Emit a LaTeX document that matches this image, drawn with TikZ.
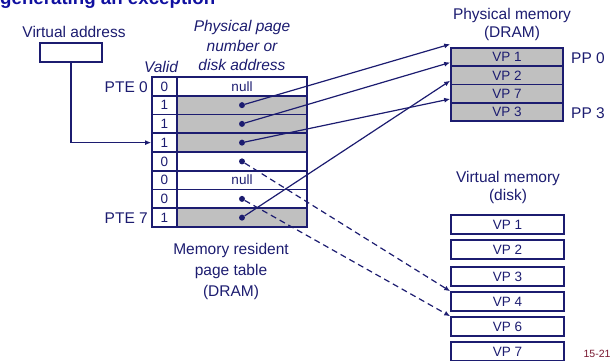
\documentclass[tikz,border=0pt]{standalone}
\usepackage{fontspec}
\setmainfont{Liberation Sans}
\usetikzlibrary{arrows.meta}
\definecolor{navy}{RGB}{28,28,112}
\definecolor{titleblue}{RGB}{16,16,160}
\definecolor{cellgray}{RGB}{192,192,192}
\definecolor{slidered}{RGB}{120,24,48}
\tikzset{
  txt/.style={inner sep=0pt, text=navy, font=\fontsize{15.5}{19.5}\selectfont},
  itxt/.style={txt, font=\fontsize{15.5}{19.5}\selectfont\itshape},
  small/.style={inner sep=0pt, text=navy, font=\fontsize{13.5}{15}\selectfont},
  cell/.style={draw=navy, line width=1.6pt, minimum height=18.75pt, inner sep=0pt, small},
  vcell/.style={cell, minimum width=25pt},
  pcell/.style={cell, minimum width=130pt},
  memcell/.style={draw=navy, line width=1.6pt, fill=cellgray, minimum width=112pt, minimum height=18.25pt, inner sep=0pt, small},
  diskcell/.style={draw=navy, line width=1.6pt, minimum width=113pt, minimum height=19pt, inner sep=0pt, small},
  dot/.style={circle, fill=navy, inner sep=0pt, minimum size=6pt},
  link/.style={draw=navy, line width=1.2pt, -{Latex[length=6pt,width=5pt]}},
  dlink/.style={link, dash pattern=on 6pt off 4pt},
}
\begin{document}
\begin{tikzpicture}[x=1pt, y=-1pt]
\useasboundingbox (0,0) rectangle (612,360);

% title, cut at the top edge of the slide
\node[anchor=base west, inner sep=0pt, text=titleblue, font=\fontsize{18.7}{20}\selectfont\bfseries] (title) at (0,4) {generating an exception};

% virtual address register
\node[txt] (valabel) at (74,32) {Virtual address};
\node[draw=navy, line width=1.6pt, minimum width=62pt, minimum height=19pt, inner sep=0pt] (vabox) at (71,52.5) {};

% page table headings
\node[itxt, align=center] (ppnhead) at (242,45.5) {Physical page\\number or\\disk address};
\node[itxt] (validhead) at (161,67) {Valid};

% page table rows
\foreach \i/\v in {0/0,1/1,2/1,3/1,4/0,5/0,6/0,7/1} {
  \pgfmathsetmacro{\yc}{86.375+18.75*\i}
  \ifnum\v=1
    \node[vcell] (v\i) at (164.5,\yc) {\v};
    \node[pcell, fill=cellgray] (p\i) at (242,\yc) {};
  \else
    \node[vcell] (v\i) at (164.5,\yc) {\v};
    \node[pcell] (p\i) at (242,\yc) {};
  \fi
}
\node[small] (null0) at (p0) {null};
\node[small] (null5) at (p5) {null};
\foreach \i in {1,2,3,4,6,7} { \node[dot] (d\i) at (p\i.center) {}; }

\node[txt, anchor=east] (pte0) at (148,87) {PTE 0};
\node[txt, anchor=east] (pte7) at (148,218) {PTE 7};

\node[txt, align=center, font=\fontsize{15.5}{21}\selectfont] (ptlabel) at (231,271) {Memory resident\\page table\\(DRAM)};

% physical memory
\node[txt, align=center, font=\fontsize{15.5}{18}\selectfont] (pmhead) at (512,24) {Physical memory\\(DRAM)};
\foreach \i/\vp in {0/VP 1,1/VP 2,2/VP 7,3/VP 3} {
  \pgfmathsetmacro{\yc}{48+9.125+18.25*\i}
  \node[memcell] (m\i) at (507,\yc) {\vp};
}
\node[txt, anchor=west] (pp0) at (571,58) {PP 0};
\node[txt, anchor=west] (pp3) at (571,113) {PP 3};

% virtual memory on disk
\node[txt, align=center, font=\fontsize{15.5}{18}\selectfont] (vmhead) at (508,187.5) {Virtual memory\\(disk)};
\node[diskcell] (k1) at (507.5,224.5) {VP 1};
\node[diskcell] (k2) at (507.5,249.5) {VP 2};
\node[diskcell] (k3) at (507.5,276.5) {VP 3};
\node[diskcell] (k4) at (507.5,301.5) {VP 4};
\node[diskcell] (k6) at (507.5,326.5) {VP 6};
\node[diskcell] (k7) at (507.5,351.5) {VP 7};

\node[inner sep=0pt, text=slidered, font=\fontsize{10.5}{12}\selectfont] (slideno) at (597,354) {15-21};

% virtual address selects PTE 3
\coordinate (bend) at (vabox.south |- v3.west);
\draw[link] (vabox.south) -- (bend) -- (v3.west);

% resident pages
\draw[link] (d1) -- ([yshift=3pt]m0.north west);
\draw[link] (d2) -- ([yshift=3pt]m1.north west);
\draw[link] (d3) -- ([yshift=3pt]m3.north west);
\draw[link] (d7) -- ([yshift=3pt]m2.north west);

% pages on disk
\draw[dlink] (d4) -- (k4.north west);
\draw[dlink] (d6) -- (k6.north west);
\end{tikzpicture}
\end{document}
